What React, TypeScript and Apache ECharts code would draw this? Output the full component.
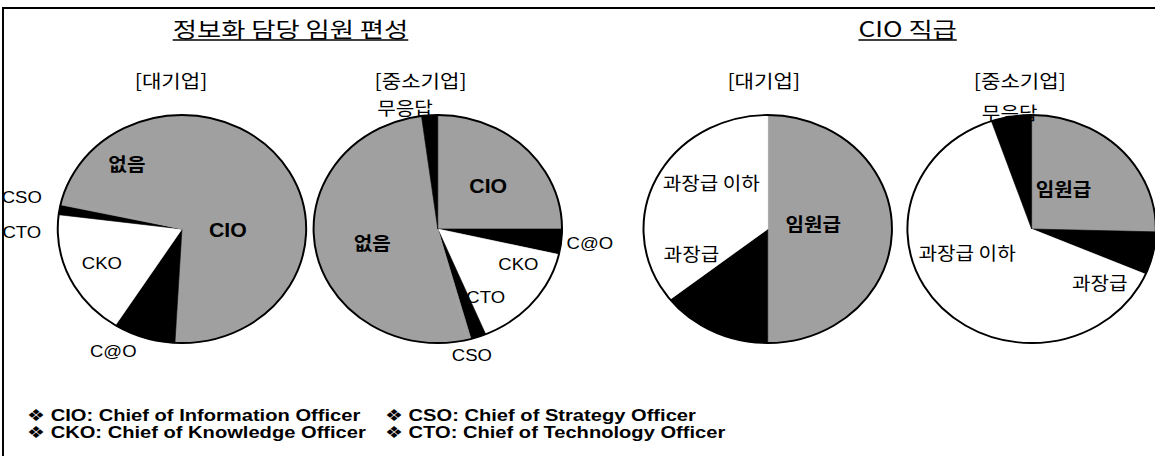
import React, { useEffect, useRef } from "react";
import * as echarts from "echarts";

// ---------- text ----------
const titleLeft = "정보화 담당 임원 편성";
const titleRight = "CIO 직급";
const subtitles = ["[대기업]", "[중소기업]", "[대기업]", "[중소기업]"];
const legendCol1 = ["❖ CIO: Chief of Information Officer", "❖ CKO: Chief of Knowledge Officer"];
const legendCol2 = ["❖ CSO: Chief of Strategy Officer", "❖ CTO: Chief of Technology Officer"];

// ---------- data (percent shares, read clockwise from 12 o'clock) ----------
const orgLargeNames = ["CIO", "C@O", "CKO", "CTO", "CSO", "없음"];
const orgLargeValues = [50.9, 8.1, 18.0, 1.4, 0.5, 21.1];

const orgSmeNames = ["CIO", "C@O", "CKO", "CTO", "CSO", "없음", "무응답"];
const orgSmeValues = [25.0, 3.6, 15.1, 2.0, 0.5, 51.7, 2.1];

const cioLargeNames = ["임원급", "과장급", "과장급 이하"];
const cioLargeValues = [50.0, 14.4, 35.6];

const cioSmeNames = ["임원급", "과장급", "과장급 이하", "무응답"];
const cioSmeValues = [25.4, 6.1, 63.25, 5.25];

// ---------- styling ----------
const GRAY = "#a0a0a0";
const colorOf: Record<string, string> = {
  CIO: GRAY,
  "C@O": "#000000",
  CKO: "#ffffff",
  CTO: "#000000",
  CSO: GRAY,
  없음: GRAY,
  무응답: "#000000",
  임원급: GRAY,
  과장급: "#000000",
  "과장급 이하": "#ffffff",
};
const boldLabels = new Set(["CIO", "없음", "임원급"]);
const koreanLabels = new Set(["없음", "무응답", "임원급", "과장급", "과장급 이하"]);

const FONT = "'Liberation Sans', 'Noto Sans CJK KR', sans-serif";
const KFONT = "'Noto Sans CJK KR', 'Liberation Sans', sans-serif";
const LFONT = "'Liberation Sans', 'DejaVu Sans', sans-serif";

// the reference scan is slightly stretched horizontally
const STRETCH = 1.0896;
const CW = 1060;
const CH = 456;

const R = 114;
const CY = 229;
const centers: [number, number][] = [
  [167.0, CY],
  [401.8, CY],
  [704.6, CY],
  [946.8, CY],
];
const subtitleX = [157, 386, 701, 936];
const subtitleY = 80;

// label placement: [angle clockwise from 12 o'clock in degrees, distance as fraction of radius]
const labelPlace: Record<string, [number, number]>[] = [
  { CIO: [91.4, 0.37], "C@O": [207.2, 1.21], CKO: [245.2, 0.71], CTO: [268.9, 1.29], CSO: [282.3, 1.32], 없음: [322.6, 0.73] },
  { CIO: [47.5, 0.55], "C@O": [95.7, 1.23], CKO: [115.8, 0.72], CTO: [147.1, 0.71], CSO: [166.1, 1.14], 없음: [257.9, 0.54], 무응답: [346.1, 1.1] },
  { 임원급: [81.7, 0.37], 과장급: [251, 0.65], "과장급 이하": [311.8, 0.61] },
  { 임원급: [35.6, 0.44], 과장급: [130.3, 0.72], "과장급 이하": [248.1, 0.56], 무응답: [350.2, 1.04] },
];

function pieSeries(names: string[], values: number[], k: number): any[] {
  const [cx, cy] = centers[k];
  const place = labelPlace[k];
  return [
    {
      type: "pie",
      center: [cx, cy],
      radius: R,
      startAngle: 90,
      clockwise: true,
      silent: true,
      avoidLabelOverlap: false,
      emphasis: { disabled: true },
      data: names.map((n, i) => ({
        name: n,
        value: values[i],
        itemStyle: { color: colorOf[n], borderColor: colorOf[n], borderWidth: 0.6 },
        label: {
          fontWeight: boldLabels.has(n) ? "bold" : "normal",
          fontFamily: koreanLabels.has(n) ? KFONT : FONT,
          fontSize: koreanLabels.has(n) ? 18.5 : boldLabels.has(n) ? 19.5 : 17,
        },
      })),
      label: {
        show: true,
        position: "inside",
        formatter: "{b}",
        color: "#000",
      },
      labelLine: { show: false },
      labelLayout: (p: any) => {
        const n = names[p.dataIndex];
        const pl = place[n];
        const a = (pl[0] * Math.PI) / 180;
        return {
          x: cx + pl[1] * R * Math.sin(a),
          y: cy - pl[1] * R * Math.cos(a),
          align: "center",
          verticalAlign: "middle",
        };
      },
      z: 2,
    },
    {
      type: "pie",
      center: [cx, cy],
      radius: R,
      silent: true,
      emphasis: { disabled: true },
      data: [{ name: "", value: 1 }],
      itemStyle: { color: "transparent", borderColor: "#000", borderWidth: 1.8 },
      label: { show: false },
      labelLine: { show: false },
      z: 3,
    },
  ];
}

function textWidth(text: string, font: string): number {
  const c = document.createElement("canvas").getContext("2d");
  if (!c) return text.length * 10;
  c.font = font;
  return c.measureText(text).width;
}

export default function App() {
  const ref = useRef<HTMLDivElement>(null);

  useEffect(() => {
    if (!ref.current) return;
    const chart = echarts.init(ref.current, undefined, { renderer: "svg" });

    const titleSize = 21;
    const titleScale = 1.15;
    const titles = [
      { text: titleLeft, x: 266.6, y: 28 },
      { text: titleRight, x: 833, y: 28 },
    ];
    const graphics: any[] = [
      {
        type: "rect",
        shape: { x: 2.75, y: 8, width: 2000, height: 1000 },
        style: { fill: "none", stroke: "#000", lineWidth: 1.8 },
        silent: true,
        z: 0,
      },
    ];
    titles.forEach((t) => {
      const w = textWidth(t.text, `${titleSize}px ${KFONT}`) * titleScale;
      graphics.push({
        type: "text",
        x: t.x,
        y: t.y,
        scaleX: titleScale,
        style: {
          text: t.text,
          fontSize: titleSize,
          fontFamily: KFONT,
          fill: "#000",
          align: "center",
          verticalAlign: "middle",
        },
        z: 5,
      });
      graphics.push({
        type: "line",
        shape: { x1: t.x - w / 2, y1: 40, x2: t.x + w / 2, y2: 40 },
        style: { stroke: "#000", lineWidth: 1.6 },
        z: 5,
      });
    });
    subtitles.forEach((s, i) => {
      graphics.push({
        type: "text",
        x: subtitleX[i],
        y: subtitleY,
        scaleX: 1.05,
        style: {
          text: s,
          fontSize: 18.5,
          fontFamily: KFONT,
          fill: "#000",
          align: "center",
          verticalAlign: "middle",
        },
        z: 5,
      });
    });
    const legendCols: [string[], number][] = [
      [legendCol1, 24.8],
      [legendCol2, 353.3],
    ];
    legendCols.forEach(([lines, x]) => {
      lines.forEach((s, i) => {
        graphics.push({
          type: "text",
          x,
          y: 415 + i * 17,
          scaleX: 1.12,
          style: {
            text: s,
            fontSize: 16.5,
            fontWeight: "bold",
            fontFamily: LFONT,
            fill: "#000",
            align: "left",
            verticalAlign: "middle",
          },
          z: 5,
        });
      });
    });

    chart.setOption({
      animation: false,
      backgroundColor: "#ffffff",
      graphic: graphics,
      series: [
        ...pieSeries(orgLargeNames, orgLargeValues, 0),
        ...pieSeries(orgSmeNames, orgSmeValues, 1),
        ...pieSeries(cioLargeNames, cioLargeValues, 2),
        ...pieSeries(cioSmeNames, cioSmeValues, 3),
      ],
    });

    return () => chart.dispose();
  }, []);

  return (
    <div
      ref={ref}
      style={{
        position: "absolute",
        left: 0,
        top: 0,
        width: CW,
        height: CH,
        transform: `scaleX(${STRETCH})`,
        transformOrigin: "0 0",
      }}
    />
  );
}
